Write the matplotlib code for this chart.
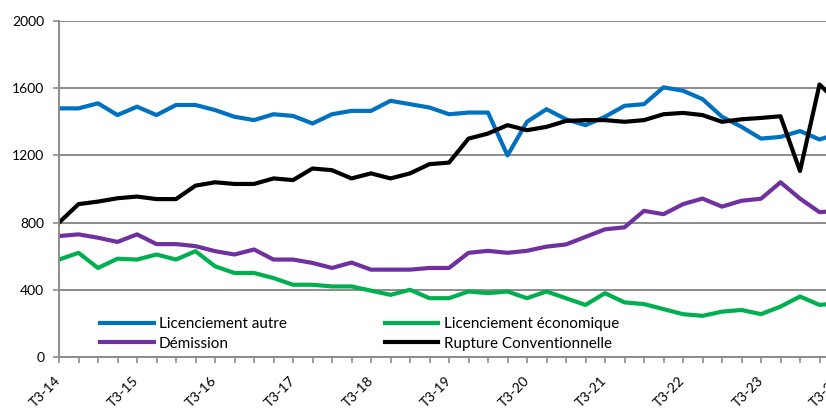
import numpy as np
import matplotlib
matplotlib.use("Agg")
import matplotlib.pyplot as plt

# Quarterly series, T3-14 .. T3-24 (one value per quarter)
licenciement_autre = [1480, 1480, 1510, 1440, 1490, 1440, 1500, 1500, 1470, 1430,
                      1410, 1445, 1435, 1390, 1445, 1465, 1465, 1525, 1505, 1485,
                      1445, 1455, 1455, 1200, 1400, 1475, 1415, 1380, 1430, 1495,
                      1505, 1605, 1585, 1535, 1430, 1370, 1300, 1310, 1345, 1295,
                      1330]
licenciement_eco = [580, 620, 530, 585, 580, 610, 580, 630, 540, 500,
                    500, 470, 430, 430, 420, 420, 395, 370, 400, 350,
                    350, 390, 380, 390, 350, 390, 350, 310, 380, 325,
                    315, 285, 255, 245, 270, 280, 255, 300, 360, 310,
                    320]
demission = [720, 730, 710, 685, 730, 672, 672, 660, 630, 610,
             640, 580, 580, 560, 530, 562, 520, 520, 520, 530,
             530, 620, 632, 620, 632, 657, 670, 715, 760, 772,
             870, 850, 910, 943, 895, 930, 942, 1040, 943, 862,
             870]
rupture = [800, 910, 925, 945, 955, 940, 940, 1020, 1040, 1030,
           1030, 1063, 1053, 1122, 1112, 1063, 1093, 1063, 1093, 1148,
           1157, 1300, 1330, 1380, 1350, 1370, 1405, 1410, 1410, 1400,
           1410, 1445, 1453, 1440, 1400, 1415, 1423, 1433, 1107, 1622,
           1510]

tick_labels = ["T3-14", "T3-15", "T3-16", "T3-17", "T3-18", "T3-19",
               "T3-20", "T3-21", "T3-22", "T3-23", "T3-24"]

quarters = np.arange(len(rupture))

plt.rcParams['font.family'] = ['Lato', 'DejaVu Sans']

fig = plt.figure(figsize=(8.26, 4.08), dpi=100)
# axis runs a bit past the right edge of the picture, as in the original
ax = fig.add_axes([59 / 826, 51 / 408, (839 - 59) / 826, 336 / 408])

grid_col = '#8c8c8c'
ax.set_axisbelow(True)
ax.yaxis.grid(True, color=grid_col, linewidth=1.4)

l1, = ax.plot(quarters, licenciement_autre, color='#0070C0', lw=3, label='Licenciement autre')
l2, = ax.plot(quarters, licenciement_eco, color='#00B050', lw=3, label='Licenciement économique')
l3, = ax.plot(quarters, demission, color='#7030A0', lw=3, label='Démission')
l4, = ax.plot(quarters, rupture, color='#000000', lw=3, label='Rupture Conventionnelle')

ax.set_xlim(0, len(rupture) - 1)
ax.set_ylim(0, 2000)
ax.set_yticks(range(0, 2001, 400))

ax.set_xticks(quarters, minor=True)
ax.set_xticks(range(0, 4 * len(tick_labels), 4))
ax.set_xticklabels(tick_labels, rotation=45, ha='right', va='center',
                   rotation_mode='anchor')

for side in ['top', 'right']:
    ax.spines[side].set_visible(False)
for side in ['left', 'bottom']:
    ax.spines[side].set_color(grid_col)
    ax.spines[side].set_linewidth(1.4)

ax.tick_params(axis='y', length=4.5, width=1.2, color=grid_col, pad=6, labelsize=10)
ax.tick_params(axis='x', which='both', length=4.5, width=1.2, color=grid_col)
ax.tick_params(axis='x', which='major', pad=11, labelsize=10)

ax.legend(handles=[l1, l3, l2, l4], ncol=2, frameon=False, fontsize=11,
          loc='upper left', bbox_to_anchor=(0.045, 0.136),
          handlelength=3.5, handletextpad=0.35, columnspacing=6.4,
          labelspacing=0.35, borderaxespad=0)

fig.savefig('out.png', dpi=100)
